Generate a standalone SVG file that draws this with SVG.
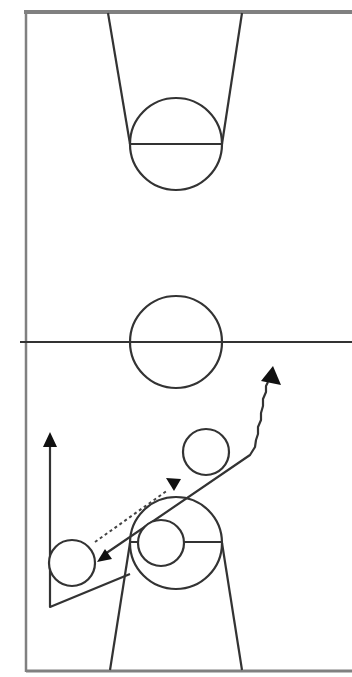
<svg xmlns="http://www.w3.org/2000/svg" width="352" height="677" viewBox="0 0 352 677">
<style>
.court{fill:none;stroke:#333;stroke-width:2.2}
.border{fill:none;stroke:#808080}
.player{fill:#fff;stroke:#333;stroke-width:2.2}
.move{fill:none;stroke:#333;stroke-width:2.2;stroke-linejoin:round}
.pass{fill:none;stroke:#444;stroke-width:2;stroke-dasharray:3 3}
.head{fill:#111;stroke:none}
</style>
<rect width="352" height="677" fill="#fff"/>
<g id="court">
  <line class="border" x1="24" y1="12" x2="352" y2="12" stroke-width="4"/>
  <line class="border" x1="26" y1="12" x2="26" y2="672" stroke-width="2.5"/>
  <line class="border" x1="26" y1="671" x2="352" y2="671" stroke-width="3"/>
  <line class="court" x1="20" y1="342" x2="352" y2="342" stroke="#555"/>
  <circle class="court" cx="176" cy="342" r="46"/>
  <line class="court" x1="108" y1="13" x2="130" y2="144"/>
  <line class="court" x1="242" y1="13" x2="222" y2="144"/>
  <circle class="court" cx="176" cy="144" r="46"/>
  <line class="court" x1="130" y1="144" x2="222" y2="144"/>
  <line class="court" x1="110" y1="670" x2="130" y2="543"/>
  <line class="court" x1="242" y1="670" x2="222" y2="543"/>
  <circle class="court" cx="176" cy="543" r="46"/>
  <line class="court" x1="130" y1="542" x2="222" y2="542"/>
</g>
<g id="connectors">
  <polyline class="move" points="50,447 50,607 130,574"/>
  <polygon class="head" points="50,432 43,447 57,447"/>
  <polyline class="move" points="105,554 250,455 255,447 256,440 258,434 258,427 261,420 261,413 263,406 263,399 266,392 266,386 268,382"/>
  <polygon class="head" points="97,562 112,559 105,549"/>
  <polygon class="head" points="273,366 261,381 281,385"/>
  <line class="pass" x1="95" y1="542" x2="168" y2="490"/>
  <polygon class="head" points="166,478 181,479 174,491"/>
</g>
<g id="player-1">
  <circle class="player" cx="206" cy="452" r="23"/>
</g>
<g id="player-2">
  <circle class="player" cx="72" cy="563" r="23"/>
</g>
<g id="player-3">
  <circle class="player" cx="161" cy="543" r="23"/>
</g>
</svg>
